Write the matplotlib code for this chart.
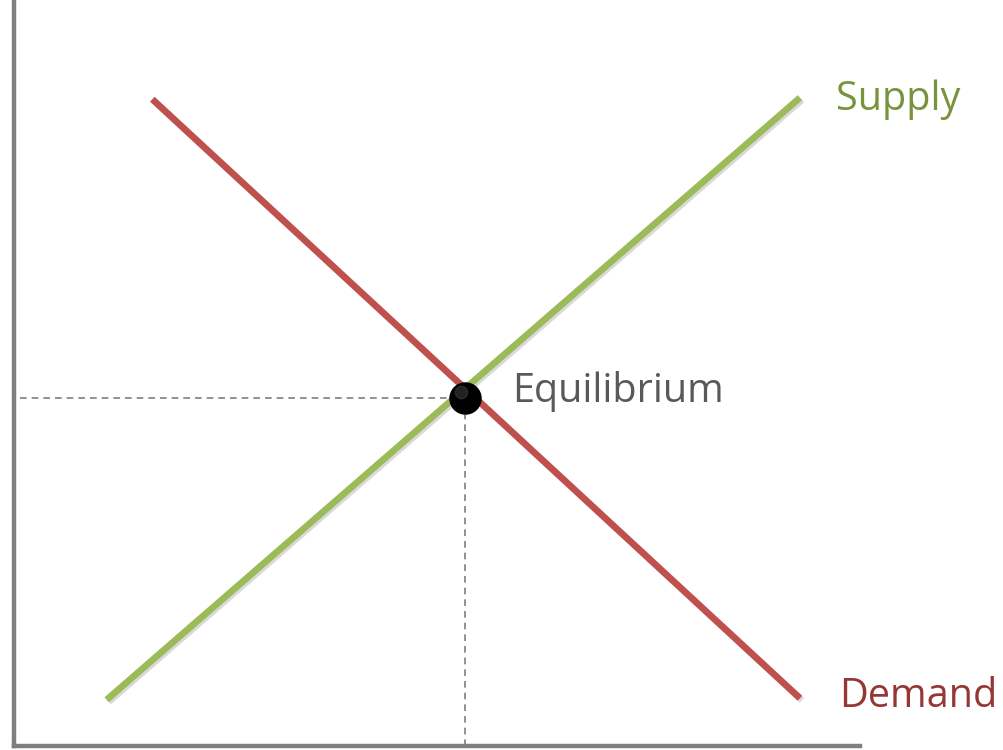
import matplotlib
matplotlib.use("Agg")
import matplotlib.pyplot as plt
import matplotlib.patheffects as pe

# Kurven in Datenkoordinaten (Achse 0..10 in beiden Richtungen)
supply_x = [1.09, 9.29]
supply_y = [0.62, 8.69]
demand_x = [1.63, 9.29]
demand_y = [8.67, 0.64]
eq_x, eq_y = 5.33, 4.66
guide_x0 = 0.07

labels = {"supply": "Supply", "demand": "Demand", "eq": "Equilibrium"}

fig = plt.figure(figsize=(10.04, 7.5), dpi=100)
ax = fig.add_axes([14.5 / 1004, 4 / 750, 845.5 / 1004, 746 / 750])
ax.set_xlim(0, 10)
ax.set_ylim(0, 10)
ax.set_xticks([])
ax.set_yticks([])
for side in ("top", "right"):
    ax.spines[side].set_visible(False)
for side in ("left", "bottom"):
    ax.spines[side].set_color("#7f7f7f")
    ax.spines[side].set_linewidth(3.2)

shadow = [pe.SimpleLineShadow(offset=(1.5, -1.5), alpha=0.15), pe.Normal()]

# Hilfslinien
ax.plot([guide_x0, eq_x], [eq_y, eq_y], ls=(0, (4, 3)), color="#7f7f7f", lw=1.2)
ax.plot([eq_x, eq_x], [0, eq_y], ls=(0, (4, 3)), color="#7f7f7f", lw=1.2)

ax.plot(supply_x, supply_y, color="#9bbb59", lw=4.8, solid_capstyle="butt",
        path_effects=shadow)
ax.plot(demand_x, demand_y, color="#c0504d", lw=4.8, solid_capstyle="butt",
        path_effects=shadow)

ax.scatter([eq_x], [eq_y], s=500, color="black", zorder=5)
ax.scatter([eq_x - 0.05], [eq_y + 0.08], s=80, color="#3a3a3a", zorder=6, alpha=0.6)

font = "Open Sans"
fs = 28.5
ax.text(supply_x[1] + 0.43, supply_y[1] - 0.03, labels["supply"], color="#77933c",
        fontsize=fs, family=font, va="center", ha="left")
ax.text(demand_x[1] + 0.46, demand_y[1] + 0.02, labels["demand"], color="#953735",
        fontsize=fs, family=font, va="center", ha="left")
ax.text(eq_x + 0.55, eq_y + 0.09, labels["eq"], color="#595959",
        fontsize=fs, family=font, va="center", ha="left")

fig.savefig("out.png", dpi=100)
